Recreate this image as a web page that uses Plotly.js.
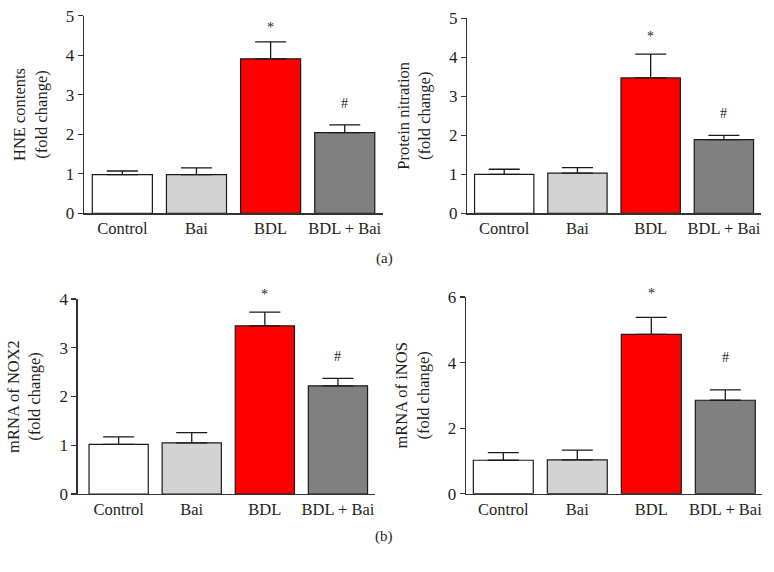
<!DOCTYPE html>
<html>
<head>
<meta charset="utf-8">
<script src="https://cdn.plot.ly/plotly-3.0.1.min.js"></script>
<style>html,body{margin:0;padding:0;background:#fff}#chart{width:774px;height:572px}</style>
</head>
<body>
<div id="chart"></div>
<script>
// ---- data ----
const categories = ["Control", "Bai", "BDL", "BDL + Bai"];
const barColors = ["#ffffff", "#d3d3d3", "#ff0000", "#808080"];

const hneMean = [0.98, 0.98, 3.91, 2.04];
const hneErr  = [0.09, 0.17, 0.43, 0.20];
const hneSig  = [null, null, 4.69, 2.77];

const nitroMean = [1.00, 1.03, 3.47, 1.89];
const nitroErr  = [0.13, 0.14, 0.61, 0.11];
const nitroSig  = [null, null, 4.53, 2.56];

const nox2Mean = [1.02, 1.05, 3.45, 2.22];
const nox2Err  = [0.15, 0.21, 0.28, 0.15];
const nox2Sig  = [null, null, 4.10, 2.82];

const inosMean = [1.02, 1.03, 4.86, 2.85];
const inosErr  = [0.23, 0.30, 0.52, 0.32];
const inosSig  = [null, null, 6.10, 4.15];

const sigMarks = ["", "", "*", "#"];
const yTitles = ["HNE contents<br>(fold change)", "Protein nitration<br>(fold change)",
                 "mRNA of NOX2<br>(fold change)", "mRNA of iNOS<br>(fold change)"];

// ---- layout geometry (pixels) ----
const W = 774, H = 572;
const panels = [
  {mean: hneMean, err: hneErr, sig: hneSig, xpx: [84, 383.3], xr: [-0.517, 3.52], ypx: [15.7, 213.3], yr: [0, 5], dt: 1},
  {mean: nitroMean, err: nitroErr, sig: nitroSig, xpx: [467.3, 760.5], xr: [-0.504, 3.5], ypx: [18.3, 213.3], yr: [0, 5], dt: 1},
  {mean: nox2Mean, err: nox2Err, sig: nox2Sig, xpx: [77.7, 374.5], xr: [-0.56, 3.5], ypx: [299, 494], yr: [0, 4], dt: 1},
  {mean: inosMean, err: inosErr, sig: inosSig, xpx: [466, 762.3], xr: [-0.504, 3.5], ypx: [297, 493.7], yr: [0, 6], dt: 2}
];

const FONT = "Liberation Serif, Times New Roman, serif";
const TXT = "#231f20";
const traces = [];
const layout = {
  width: W, height: H,
  margin: {l: 0, r: 0, t: 0, b: 0},
  paper_bgcolor: "#fff", plot_bgcolor: "rgba(0,0,0,0)",
  showlegend: false,
  bargap: 0.19,
  font: {family: FONT, size: 16, color: TXT},
  annotations: []
};

panels.forEach((p, i) => {
  const n = i + 1;
  const xa = "x" + (n === 1 ? "" : n), ya = "y" + (n === 1 ? "" : n);
  traces.push({
    type: "bar", x: categories, y: p.mean, xaxis: xa, yaxis: ya,
    marker: {color: barColors, line: {color: "#1a1a1a", width: 1.2}},
    error_y: {type: "data", symmetric: false, array: p.err, arrayminus: p.mean.map(() => 0),
              color: "#1a1a1a", thickness: 1.3, width: 15.5},
    hoverinfo: "skip"
  });
  const xkey = "xaxis" + (n === 1 ? "" : n), ykey = "yaxis" + (n === 1 ? "" : n);
  layout[xkey] = {
    domain: [p.xpx[0] / W, p.xpx[1] / W], range: p.xr, anchor: ya,
    type: "category", showline: true, linecolor: "#333", linewidth: 1.3,
    ticks: "", showgrid: false, zeroline: false, fixedrange: true,
    tickfont: {family: FONT, size: 16.5, color: TXT}
  };
  layout[ykey] = {
    domain: [1 - p.ypx[1] / H, 1 - p.ypx[0] / H], range: p.yr, anchor: xa,
    dtick: p.dt, tick0: 0, showline: true, linecolor: "#333", linewidth: 1.3,
    ticks: "outside", ticklen: 5, tickwidth: 1.2, tickcolor: "#333",
    showgrid: false, zeroline: false, fixedrange: true,
    tickfont: {family: FONT, size: 17, color: TXT},
    title: {text: yTitles[i], font: {family: FONT, size: 16.5, color: TXT}, standoff: 14}
  };
  // significance marks: anchored at the error-bar top, shifted in pixels to the read level
  const pxPerUnit = (p.ypx[1] - p.ypx[0]) / (p.yr[1] - p.yr[0]);
  p.sig.forEach((s, k) => {
    if (s === null) return;
    const top = p.mean[k] + p.err[k];
    layout.annotations.push({
      xref: xa, yref: ya, x: categories[k], y: top, yshift: (s - top) * pxPerUnit,
      text: sigMarks[k], showarrow: false, yanchor: "middle",
      font: {family: FONT, size: 14, color: TXT}
    });
  });
});

layout.annotations.push(
  {xref: "paper", yref: "paper", x: 384 / W, y: 1 - 258 / H, text: "(a)", showarrow: false,
   font: {family: FONT, size: 15, color: TXT}},
  {xref: "paper", yref: "paper", x: 384 / W, y: 1 - 547 / H, text: "(b)", showarrow: false,
   font: {family: FONT, size: 15, color: TXT}}
);

Plotly.newPlot("chart", traces, layout, {staticPlot: true, displayModeBar: false});
</script>
</body>
</html>
